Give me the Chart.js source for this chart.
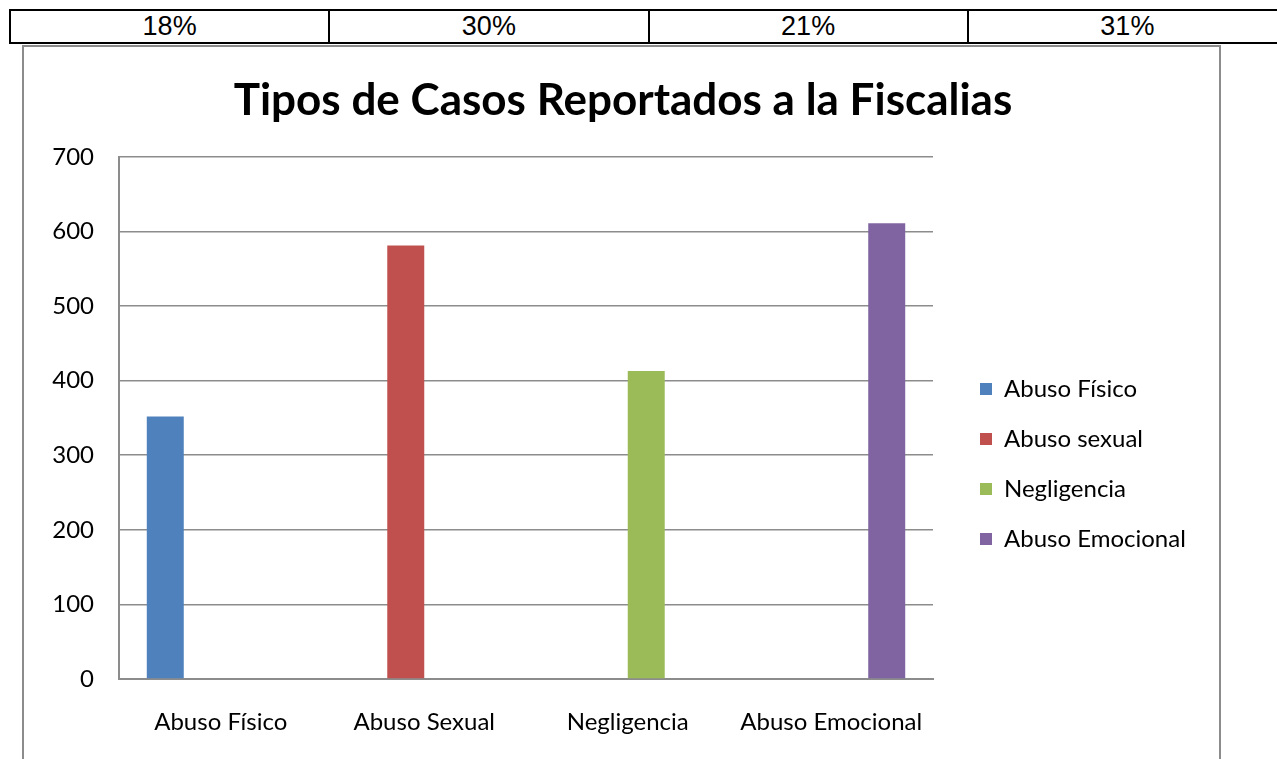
<!DOCTYPE html>
<html>
<head>
<meta charset="utf-8">
<script src="https://cdn.jsdelivr.net/npm/chart.js@4.4.1/dist/chart.umd.min.js"></script>
<style>
  body { margin: 0; background: #fff; width: 1277px; height: 759px; overflow: hidden; position: relative; }
  table.pct { position: absolute; left: 9px; top: 9px; border-collapse: collapse; table-layout: fixed; width: 1279px; font-family: "Liberation Sans", Arial, sans-serif; font-size: 27px; }
  table.pct td { border: 2px solid #000; height: 31px; padding: 0; text-align: center; line-height: 31px; }
  .frame { position: absolute; left: 22px; top: 45px; width: 1199px; height: 800px; border: 2px solid #8c8c8c; box-sizing: border-box; }
  #grafico { position: absolute; left: 24px; top: 47px; }
</style>
</head>
<body>
<table class="pct"><tr id="fila"></tr></table>
<div class="frame"></div>
<canvas id="grafico" width="1198" height="712"></canvas>
<script>
var categorias = ["Abuso Físico", "Abuso Sexual", "Negligencia", "Abuso Emocional"];
var series = ["Abuso Físico", "Abuso sexual", "Negligencia", "Abuso Emocional"];
var casos = [352, 581, 413, 611];
var porcentajes = ["18%", "30%", "21%", "31%"];
var colores = ["#4F81BD", "#C0504D", "#9BBB59", "#8064A2"];

var fila = document.getElementById("fila");
for (var i in porcentajes) {
	var td = document.createElement("td");
	td.textContent = porcentajes[i];
	fila.appendChild(td);
}

// cada serie solo tiene valor en su propia categoria
var datasets = [];
for (var s = 0; s < series.length; s++) {
	var valores = [];
	for (var c = 0; c < categorias.length; c++) {
		valores.push(c == s ? casos[s] : null);
	}
	datasets.push({
		label: series[s],
		data: valores,
		backgroundColor: colores[s],
		borderWidth: 0,
		barPercentage: 1,
		categoryPercentage: 0.727
	});
}

var fuente = "Lato, 'Noto Sans', sans-serif";

// mueve la leyenda para dejar el hueco como en el original
var ajusteLeyenda = {
	id: 'ajusteLeyenda',
	beforeLayout: function(chart) {
		var lg = chart.legend;
		if (lg && !lg._parchado) {
			var fit = lg.fit;
			lg.fit = function() { fit.call(this); this.width = 289; };
			lg._parchado = true;
		}
	},
	afterLayout: function(chart) {
		var lg = chart.legend;
		lg.left += 21; lg.right += 21;
		lg.top += 61; lg.bottom += 61;
	}
};

var ctx = document.getElementById("grafico");
var grafico = new Chart(ctx, {
	type: 'bar',
	data: { labels: categorias, datasets: datasets },
	plugins: [ajusteLeyenda],
	options: {
		responsive: false,
		animation: false,
		devicePixelRatio: 1,
		layout: { padding: 0 },
		plugins: {
			tooltip: { enabled: false },
			title: {
				display: true,
				text: 'Tipos de Casos Reportados a la Fiscalias',
				color: '#000',
				font: { family: fuente, size: 44, weight: 'bold', lineHeight: 1.2 },
				padding: { top: 27, bottom: 30 }
			},
			legend: {
				position: 'right',
				labels: {
					color: '#000',
					font: { family: fuente, size: 24 },
					boxWidth: 12,
					boxHeight: 12,
					padding: 26
				}
			}
		},
		scales: {
			y: {
				min: 0,
				max: 700,
				ticks: { stepSize: 100, color: '#000', padding: 25, font: { family: fuente, size: 24 } },
				grid: { color: '#8c8c8c', lineWidth: 1.5, drawTicks: false },
				border: { color: '#8c8c8c', width: 2 },
				afterFit: function(scale) { scale.width = 95; }
			},
			x: {
				ticks: { color: '#000', padding: 29, font: { family: fuente, size: 24 } },
				grid: { display: false, drawTicks: false },
				border: { color: '#8c8c8c', width: 2 },
				afterFit: function(scale) { scale.height = 80; }
			}
		}
	}
});
</script>
</body>
</html>
